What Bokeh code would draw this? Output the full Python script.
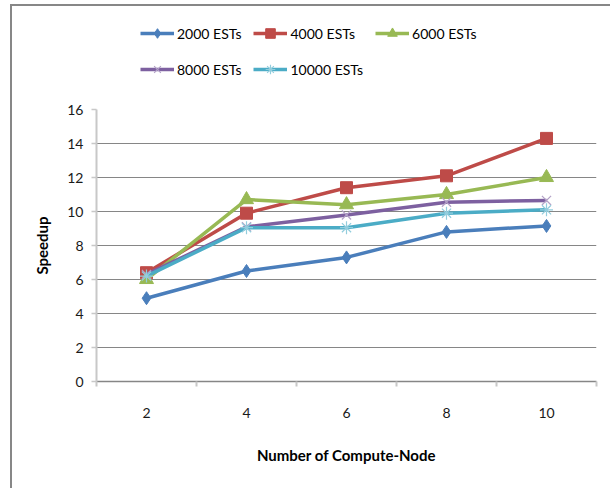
from bokeh.plotting import figure
from bokeh.layouts import column
from bokeh.models import Range1d, FixedTicker, Legend, LegendItem
from bokeh.embed import file_html
from bokeh.resources import INLINE

nodes = [2, 4, 6, 8, 10]
est_2000 = [4.9, 6.5, 7.3, 8.8, 9.15]
est_4000 = [6.4, 9.9, 11.4, 12.1, 14.3]
est_6000 = [6.0, 10.7, 10.4, 11.0, 12.0]
est_8000 = [6.3, 9.1, 9.8, 10.55, 10.65]
est_10000 = [6.2, 9.05, 9.05, 9.9, 10.1]
y_ticks = [0, 2, 4, 6, 8, 10, 12, 14, 16]

series = [
    ("2000 ESTs", est_2000, "#4A7EBB", "#4A7EBB", "diamond", 13),
    ("4000 ESTs", est_4000, "#BE4B48", "#BE4B48", "square", 12),
    ("6000 ESTs", est_6000, "#98B954", "#98B954", "triangle", 14),
    ("8000 ESTs", est_8000, "#7D60A0", "#B3A2C7", "x", 13),
    ("10000 ESTs", est_10000, "#4BACC6", "#93CDDD", "asterisk", 13),
]

FONT = "Lato"


def add_series(fig, name, vals, lc, mc, marker, size):
    r1 = fig.line(nodes, vals, line_color=lc, line_width=3.5)
    if marker in ("x", "asterisk"):
        r2 = fig.scatter(nodes, vals, marker=marker, size=size, line_color=mc, line_width=1.2)
    else:
        r2 = fig.scatter(nodes, vals, marker=marker, size=size, fill_color=mc, line_color=mc)
    return r1, r2


# ---- legend strip (its own figure so the legend is not clipped) ----
lf = figure(width=598, height=90, output_backend="svg", toolbar_location=None,
            x_range=Range1d(100, 101), y_range=Range1d(100, 101),
            x_axis_type=None, y_axis_type=None,
            min_border_left=0, min_border_right=0, min_border_top=0, min_border_bottom=0)
lf.outline_line_color = None
lf.xgrid.visible = False
lf.ygrid.visible = False
lf.border_fill_color = "white"

item_map = {}
for name, vals, lc, mc, marker, size in series:
    r1, r2 = add_series(lf, name, vals, lc, mc, marker, size)
    item_map[name] = LegendItem(label=name, renderers=[r1, r2])

# legend grid fills column by column: order so rows read 2000/4000/6000, 8000/10000
legend_order = ["2000 ESTs", "8000 ESTs", "4000 ESTs", "10000 ESTs", "6000 ESTs"]
items = [item_map[n] for n in legend_order]

legend = Legend(items=items, ncols=3, location=(44, 15),
                glyph_width=34, glyph_height=24, label_standoff=3,
                label_height=24, spacing=12, padding=0, margin=0,
                label_text_font=FONT, label_text_font_size="14px",
                label_text_color="#000000",
                border_line_alpha=0, background_fill_alpha=0)
lf.add_layout(legend, "center")

# ---- main chart ----
p = figure(width=598, height=392, output_backend="svg", toolbar_location=None,
           x_range=Range1d(1, 11), y_range=Range1d(0, 16),
           min_border_left=84, min_border_right=14, min_border_top=13, min_border_bottom=107)
p.outline_line_color = None
p.background_fill_color = "white"
p.border_fill_color = "white"

p.xgrid.visible = False
p.ygrid.ticker = FixedTicker(ticks=y_ticks)
p.ygrid.grid_line_color = "#868686"
p.ygrid.grid_line_width = 1

xa = p.xaxis[0]
xa.ticker = FixedTicker(ticks=nodes, minor_ticks=[1, 3, 5, 7, 9, 11])
xa.major_tick_out = 0
xa.major_tick_in = 0
xa.minor_tick_out = 5
xa.minor_tick_in = 0
xa.minor_tick_line_color = "#C8C8C8"
xa.minor_tick_line_width = 2
xa.axis_line_color = "#868686"
xa.axis_line_width = 1.5
xa.major_label_standoff = 21
xa.major_label_text_font = FONT
xa.major_label_text_font_size = "14px"
xa.major_label_text_color = "#1a1a1a"
xa.axis_label = "Number of Compute-Node"
xa.axis_label_text_font = FONT
xa.axis_label_text_font_style = "bold"
xa.axis_label_text_font_size = "15px"
xa.axis_label_text_color = "#000000"
xa.axis_label_standoff = 25

ya = p.yaxis[0]
ya.ticker = FixedTicker(ticks=y_ticks)
ya.major_tick_out = 5
ya.major_tick_in = 0
ya.minor_tick_out = 0
ya.minor_tick_in = 0
ya.major_tick_line_color = "#C8C8C8"
ya.major_tick_line_width = 1.5
ya.axis_line_color = "#C8C8C8"
ya.axis_line_width = 2
ya.major_label_standoff = 8
ya.major_label_text_font = FONT
ya.major_label_text_font_size = "14px"
ya.major_label_text_color = "#1a1a1a"
ya.axis_label = "Speedup"
ya.axis_label_text_font = FONT
ya.axis_label_text_font_style = "bold"
ya.axis_label_text_font_size = "15px"
ya.axis_label_text_color = "#000000"
ya.axis_label_standoff = 13

for name, vals, lc, mc, marker, size in series:
    add_series(p, name, vals, lc, mc, marker, size)

layout = column(lf, p, spacing=0)
layout.styles = {"margin-left": "10px", "margin-top": "4px",
                 "border-left": "2px solid #878787", "border-top": "2px solid #878787",
                 "background-color": "white"}

open("out.html", "w").write(file_html(layout, INLINE))
